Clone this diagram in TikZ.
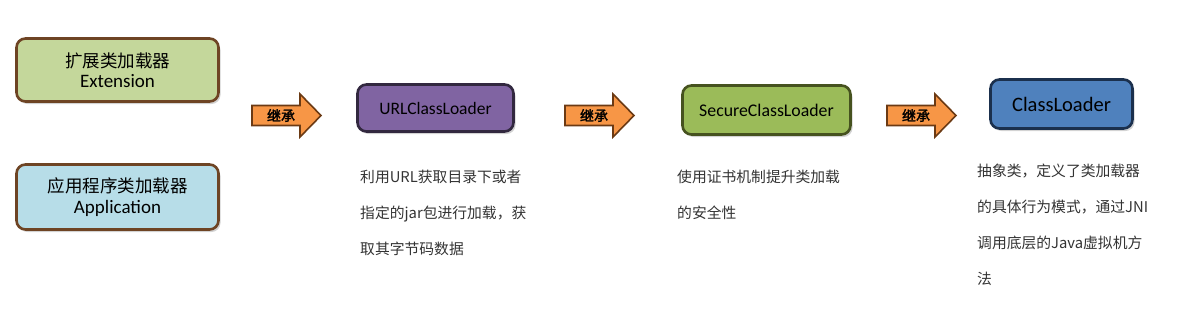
\documentclass[tikz,border=0pt]{standalone}
\usepackage{fontspec}
\setmainfont{Carlito}
\newfontfamily\cjk{Noto Sans CJK SC}
\newfontfamily\cjkb[FakeBold=2]{Noto Sans CJK SC}
\usetikzlibrary{shadows}
\definecolor{extfill}{HTML}{C4D79B}
\definecolor{appfill}{HTML}{B7DDE8}
\definecolor{brownline}{HTML}{6E4424}
\definecolor{urlfill}{HTML}{8064A2}
\definecolor{urlline}{HTML}{32283F}
\definecolor{secfill}{HTML}{9BBB59}
\definecolor{secline}{HTML}{46521F}
\definecolor{clfill}{HTML}{4F81BD}
\definecolor{clline}{HTML}{1B304D}
\definecolor{arrfill}{HTML}{F79646}
\definecolor{arrline}{HTML}{6B3A14}
\definecolor{desctext}{HTML}{333333}
\tikzset{
  box/.style={draw, rounded corners=9pt, line width=2.6pt, inner sep=0pt, align=center,
    drop shadow={opacity=0.35, shadow xshift=2pt, shadow yshift=-2.5pt}},
  twoline/.style={font=\fontsize{18}{20.5}\selectfont},
  desc/.style={anchor=north west, inner sep=0pt, align=left, text=desctext,
    font=\cjk\fontsize{14.8}{36}\selectfont},
  arrlabel/.style={inner sep=0pt, font=\cjkb\fontsize{14}{14}\selectfont},
  inharrow/.style={draw=arrline, fill=arrfill, line width=1.6pt, line join=miter}
}
\newcommand\inhArrow[2]{%
  \coordinate (#1) at (#2,115.5);
  \path[inharrow] (#1) ++(0,-10) -- ++(48,0) -- ++(0,-11.5) -- ++(21,21.5) -- ++(-21,21.5) -- ++(0,-11.5) -- ++(-48,0) -- cycle;
  \node[arrlabel] (#1t) at ([xshift=29pt]#1) {继承};
}
\begin{document}
\begin{tikzpicture}[x=1pt,y=-1pt]
\useasboundingbox (0,0) rectangle (1180,314);
\node[box, twoline, draw=brownline, fill=extfill, minimum width=202pt, minimum height=63pt] (ext) at (117.5,70)
  {{\cjk\fontsize{17.5}{20.5}\selectfont 扩展类加载器}\\{\fontsize{19}{20.5}\selectfont Extension}};
\node[box, twoline, draw=brownline, fill=appfill, minimum width=202pt, minimum height=65pt] (app) at (117.5,197)
  {{\cjk\fontsize{17.5}{20.5}\selectfont 应用程序类加载器}\\{\fontsize{19}{20.5}\selectfont Application}};
\node[box, draw=urlline, fill=urlfill, minimum width=156pt, minimum height=47pt, font=\fontsize{17.5}{17}\selectfont] (url) at (435.5,108) {URLClassLoader};
\node[box, draw=secline, fill=secfill, minimum width=168pt, minimum height=49pt, font=\fontsize{17.8}{17}\selectfont] (sec) at (766.5,110) {SecureClassLoader};
\node[box, draw=clline, fill=clfill, minimum width=142pt, minimum height=49pt, font=\fontsize{20.5}{19}\selectfont] (cl) at (1061.5,104) {ClassLoader};
\inhArrow{a1}{252}
\inhArrow{a2}{565}
\inhArrow{a3}{887}
\node[desc] (urld) at (360,170) {利用URL获取目录下或者\\指定的jar包进行加载，获\\取其字节码数据};
\node[desc] (secd) at (677,170) {使用证书机制提升类加载\\的安全性};
\node[desc] (cld) at (977,164) {抽象类，定义了类加载器\\的具体行为模式，通过JNI\\调用底层的Java虚拟机方\\法};
\end{tikzpicture}
\end{document}
